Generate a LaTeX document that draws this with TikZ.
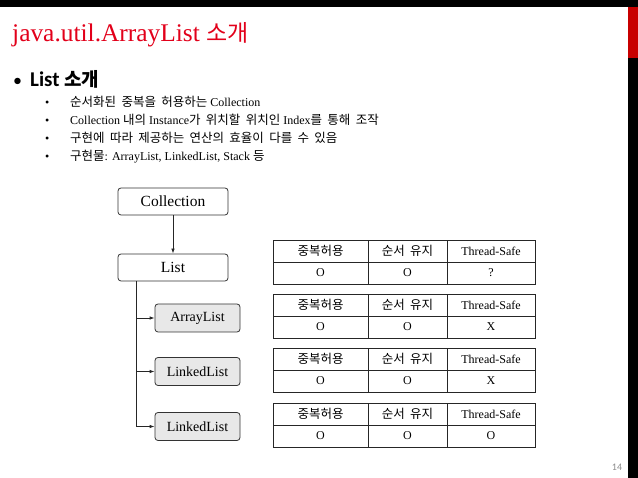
\documentclass[tikz,border=0pt]{standalone}
\usepackage{fontspec}
\setmainfont{Liberation Serif}
\newfontfamily\krfont[WordSpace=1.9]{Noto Sans CJK KR}
\newfontfamily\calfont{Carlito}
\usepackage{xcolor}
\usetikzlibrary{arrows.meta}
\definecolor{titlered}{RGB}{226,0,26}
\definecolor{barred}{RGB}{200,0,0}
\newcommand{\fs}[1]{\fontsize{#1}{#1}\selectfont}
\newcommand{\kr}[1]{{\krfont\fs{12.5}#1}}

\tikzset{
  box/.style={draw=black!80,line width=0.8pt,rounded corners=3pt,fill=white,
    minimum width=110pt,minimum height=27pt,inner sep=0pt,font=\fs{15.5}},
  subbox/.style={box,fill=black!9,minimum width=85pt,minimum height=28pt,font=\fs{14}},
  cell/.style={draw=black!85,line width=0.9pt,minimum height=22pt,inner sep=0pt,
    outer sep=0pt,font=\fs{12}},
  arr/.style={draw=black!85,line width=0.8pt,-{Latex[length=5pt,width=3.5pt]}},
}

\begin{document}
\begin{tikzpicture}[x=1pt,y=-1pt]
\useasboundingbox (0,0) rectangle (638,478);
% slide frame
\fill[black] (0,0) rectangle (638,7);
\fill[barred] (628,7) rectangle (638,58);
\fill[black] (628,58) rectangle (638,478);

% title and bullets
\node[anchor=base west,inner sep=0pt,text=titlered,font=\fs{25.4}] (title) at (12,42)
  {java.util.ArrayList {\krfont\fs{23}소개}};
\node[anchor=base west,inner sep=0pt,font=\calfont\fs{18}] (ldot) at (13,87) {\textbullet};
\node[anchor=base west,inner sep=0pt,font=\calfont\bfseries\fs{21}] (lhead) at (30,87)
  {List {\krfont\fs{19}소개}};
\foreach \n/\y/\txt in {
  1/107/{\kr{순서화된 중복을 허용하는} Collection},
  2/124.8/{Collection \kr{내의} Instance\kr{가 위치할 위치인} Index\kr{를 통해 조작}},
  3/142.6/{\kr{구현에 따라 제공하는 연산의 효율이 다를 수 있음}},
  4/160.4/{\kr{구현물}: ArrayList, LinkedList, Stack \kr{등}}}{
  \node[anchor=base west,inner sep=0pt,font=\fs{12}] (dot\n) at (45,\y) {\textbullet};
  \node[anchor=base west,inner sep=0pt,font=\fs{12}] (item\n) at (70,\y) {\txt};
}

% hierarchy
\node[box] (coll) at (173,201.5) {Collection};
\node[box] (list) at (173,267.5) {List};
\node[subbox] (al) at (197.5,318) {ArrayList};
\node[subbox] (ll1) at (197.5,371.5) {LinkedList};
\node[subbox] (ll2) at (197.5,426.5) {LinkedList};
\draw[arr] (coll) -- (list);
\coordinate (trunk) at ([xshift=-37pt]list.south);
\draw[arr] (trunk) |- (al.west);
\draw[arr] (trunk) |- (ll1.west);
\draw[arr] (trunk) |- (ll2.west);

% property tables
\foreach \t/\y/\v in {1/240/?,2/294/X,3/348/X,4/403/O}{
  \node[cell,minimum width=95pt] (hd\t-1) at (320.5,\y+11) {\kr{중복허용}};
  \node[cell,minimum width=79pt] (hd\t-2) at (407.5,\y+11) {\kr{순서 유지}};
  \node[cell,minimum width=88pt] (hd\t-3) at (491,\y+11) {Thread-Safe};
  \node[cell,minimum width=95pt] (val\t-1) at (320.5,\y+33) {O};
  \node[cell,minimum width=79pt] (val\t-2) at (407.5,\y+33) {O};
  \node[cell,minimum width=88pt] (val\t-3) at (491,\y+33) {\v};
}

% page number
\node[text=black!45,font=\calfont\fs{10}] (pgno) at (617,467) {14};
\end{tikzpicture}
\end{document}
